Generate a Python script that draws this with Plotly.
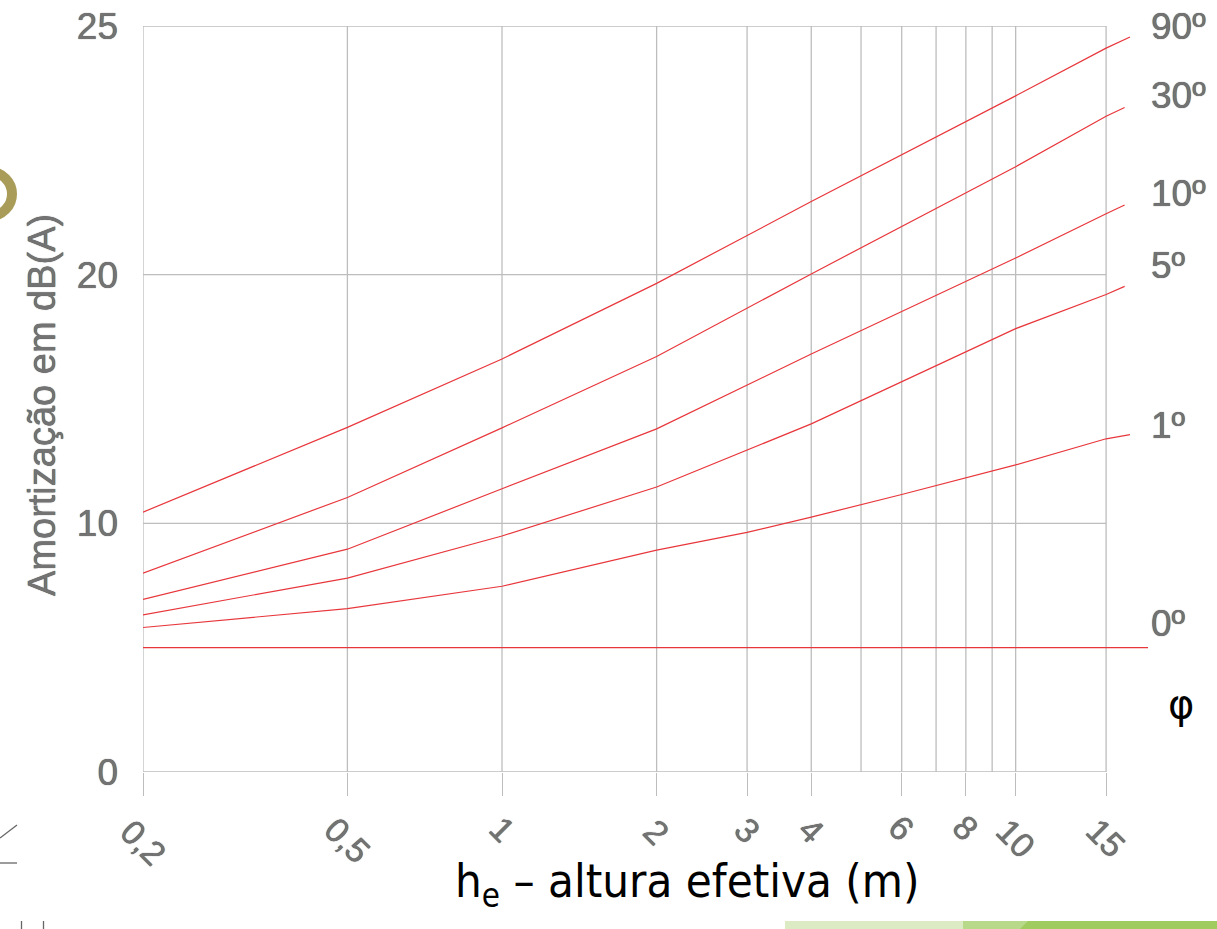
import numpy as np
import plotly.graph_objects as go

# ---------------- data ----------------
# x: effective height h_e (m), log axis
# y: attenuation, in the chart's own axis units (gridlines 0/10/20/top; top line is labelled "25")
h_90 = [0.2, 0.5, 1, 2, 4, 10, 15, 16.7]
a_90 = [10.45, 13.86, 16.61, 19.65, 22.94, 27.19, 29.11, 29.56]

h_30 = [0.2, 0.5, 1, 2, 4, 10, 15, 16.3]
a_30 = [8.0, 11.04, 13.84, 16.71, 20.03, 24.34, 26.37, 26.72]

h_10 = [0.2, 0.5, 1, 2, 4, 10, 15, 16.3]
a_10 = [6.94, 8.96, 11.39, 13.80, 16.81, 20.67, 22.45, 22.8]

h_5 = [0.2, 0.5, 1, 2, 4, 10, 15, 16.3]
a_5 = [6.32, 7.80, 9.49, 11.46, 14.0, 17.83, 19.2, 19.53]

h_1 = [0.2, 0.5, 1, 2, 3, 4, 6, 10, 15, 16.7]
a_1 = [5.81, 6.57, 7.47, 8.92, 9.64, 10.25, 11.16, 12.35, 13.4, 13.57]

h_0 = [0.2, 18.1]
a_0 = [5.0, 5.0]

curve_labels = ["90º", "30º", "10º", "5º", "1º", "0º"]

x_tick_vals = [0.2, 0.5, 1, 2, 3, 4, 6, 8, 10, 15]
x_tick_text = ["0,2", "0,5", "1", "2", "3", "4", "6", "8", "10", "15"]
x_grid_vals = [0.2, 0.5, 1, 2, 3, 4, 5, 6, 7, 8, 9, 10, 15]

y_tick_vals = [0, 10, 20, 30]
y_tick_text = ["0", "10", "20", "25"]

x_title = "h<sub>e</sub> – altura efetiva (m)"
y_title = "Amortização em dB(A)"

# ---------------- layout geometry ----------------
W, H = 1217, 929
PL, PR, PT, PB = 143, 1148, 26, 772


def fx(px):
    return (px - PL) / (PR - PL)


def fy(py):
    return (PB - py) / (PB - PT)


RED = "#e8373c"
GRID = "#bdbdbd"
GRAYTXT = "#737373"
TXTFONT = "Liberation Sans, Arial, sans-serif"
OUTLINE = "0 0 0.8px #2a2a2a"

fig = go.Figure()

series = [(h_90, a_90), (h_30, a_30), (h_10, a_10), (h_5, a_5), (h_1, a_1), (h_0, a_0)]
for (hx, ay), name in zip(series, curve_labels):
    fig.add_trace(go.Scatter(x=hx, y=ay, mode="lines", name=name,
                             line=dict(color=RED, width=1.2), hoverinfo="skip",
                             showlegend=False))

shapes = []
# vertical gridlines
for gv in x_grid_vals:
    shapes.append(dict(type="line", xref="x", yref="y", x0=gv, x1=gv,
                       y0=y_tick_vals[0], y1=y_tick_vals[-1],
                       line=dict(color=GRID, width=1.3), layer="below"))
# horizontal gridlines (stop at 15)
for yv in y_tick_vals:
    shapes.append(dict(type="line", xref="x", yref="y", x0=x_grid_vals[0], x1=x_grid_vals[-1],
                       y0=yv, y1=yv, line=dict(color=GRID, width=1.3), layer="below"))

# slide decorations (outside the plot)
shapes.append(dict(type="circle", xref="paper", yref="paper",
                   x0=fx(-32), x1=fx(12), y0=fy(216), y1=fy(172),
                   line=dict(color="#a99b58", width=10)))
shapes.append(dict(type="line", xref="paper", yref="paper", x0=fx(0), x1=fx(17),
                   y0=fy(838), y1=fy(825), line=dict(color="#666", width=1.3)))
shapes.append(dict(type="line", xref="paper", yref="paper", x0=fx(0), x1=fx(17),
                   y0=fy(863), y1=fy(863), line=dict(color="#666", width=1.3)))
for vx in (21.5, 43.5):
    shapes.append(dict(type="line", xref="paper", yref="paper", x0=fx(vx), x1=fx(vx),
                       y0=fy(921), y1=fy(929), line=dict(color="#666", width=1.3)))
shapes.append(dict(type="rect", xref="paper", yref="paper", x0=fx(785), x1=fx(963),
                   y0=fy(929), y1=fy(921), line=dict(width=0), fillcolor="#dcebc4"))
shapes.append(dict(type="rect", xref="paper", yref="paper", x0=fx(963), x1=fx(1217),
                   y0=fy(929), y1=fy(921), line=dict(width=0), fillcolor="#b8d98a"))
shapes.append(dict(type="path", xref="paper", yref="paper",
                   path="M {a},{b} L {c},{b} L {c},{d} L {e},{d} Z".format(
                       a=fx(1020), b=fy(929), c=fx(1217), d=fy(921), e=fx(1028)),
                   line=dict(width=0), fillcolor="#9fcb5f"))

annotations = []
# x tick labels (rotated, centred on ticks)
label_centre_y = {"0,2": 842, "0,5": 840, "1": 829, "2": 832, "3": 830, "4": 830,
                  "6": 828, "8": 828, "10": 838, "15": 838}
for tv, tt in zip(x_tick_vals, x_tick_text):
    annotations.append(dict(x=np.log10(tv), y=fy(label_centre_y[tt]), xref="x", yref="paper",
                            text=tt, showarrow=False, textangle=45,
                            xanchor="center", yanchor="middle",
                            font=dict(family=TXTFONT, size=34, color=GRAYTXT, shadow=OUTLINE)))

# curve labels on the right
right_lab_y = [26, 96, 193, 265, 425, 623]
for txt, py in zip(curve_labels, right_lab_y):
    annotations.append(dict(x=fx(1149), y=fy(py), xref="paper", yref="paper", text=txt,
                            showarrow=False, xanchor="left", yanchor="middle",
                            font=dict(family=TXTFONT, size=37, color=GRAYTXT, shadow=OUTLINE)))
annotations.append(dict(x=fx(1181), y=fy(704), xref="paper", yref="paper", text="φ",
                        showarrow=False, xanchor="center", yanchor="middle",
                        font=dict(family="DejaVu Sans, sans-serif", size=40, color="#000")))

# axis titles
annotations.append(dict(x=fx(42), y=fy(405), xref="paper", yref="paper", text=y_title,
                        showarrow=False, textangle=-90, xanchor="center", yanchor="middle",
                        font=dict(family=TXTFONT, size=38, color=GRAYTXT, shadow=OUTLINE)))
annotations.append(dict(x=fx(687), y=fy(884), xref="paper", yref="paper", text=x_title,
                        showarrow=False, xanchor="center", yanchor="middle",
                        font=dict(family="Liberation Sans Narrow, DejaVu Sans Condensed, sans-serif",
                                  size=47, color="#000")))

fig.update_layout(
    width=W, height=H,
    margin=dict(l=PL, r=W - PR, t=PT, b=H - PB, pad=0, autoexpand=False),
    paper_bgcolor="white", plot_bgcolor="white",
    shapes=shapes, annotations=annotations,
    showlegend=False,
)
fig.update_xaxes(type="log", range=[np.log10(0.2), np.log10(18.1)],
                 tickvals=x_tick_vals, ticktext=x_tick_text, showticklabels=False,
                 ticks="outside", ticklen=23, tickwidth=1.3, tickcolor=GRID, automargin=False,
                 showgrid=False, zeroline=False, showline=False)
fig.update_yaxes(range=[0, 30], tickvals=y_tick_vals, ticktext=y_tick_text, automargin=False,
                 ticks="", ticklabelstandoff=24, showgrid=False, zeroline=False, showline=False,
                 tickfont=dict(family=TXTFONT, size=37, color=GRAYTXT, shadow=OUTLINE))

fig.write_html("out.html")
